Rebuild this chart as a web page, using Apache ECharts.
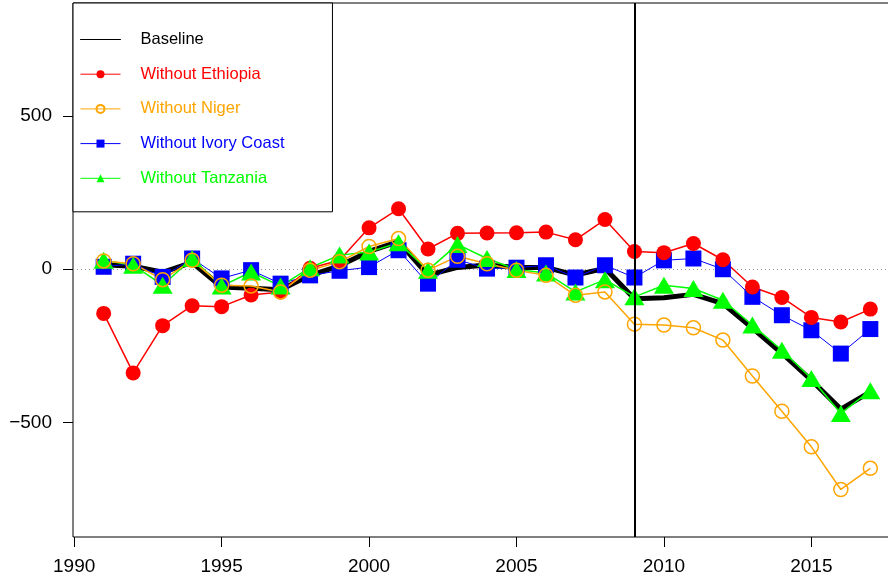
<!DOCTYPE html>
<html><head><meta charset="utf-8">
<script src="https://cdn.jsdelivr.net/npm/echarts@6/dist/echarts.min.js"></script>
<style>html,body{margin:0;padding:0;background:#fff}#chart{width:888px;height:579px}</style>
</head><body><div id="chart"></div>
<script>
const years = [1991,1992,1993,1994,1995,1996,1997,1998,1999,2000,2001,2002,2003,2004,2005,2006,2007,2008,2009,2010,2011,2012,2013,2014,2015,2016,2017];
const baseline = [15,10,-10,22,-58,-62,-67,-20,11,58,90,-19,6,14,6,6,-19,3,-96,-93,-82,-112,-192,-274,-362,-456,-400];
const withoutEthiopia = [-144,-338,-184,-119,-122,-84,-74,3,29,135,197,66,117,118,119,121,96,162,58,54,84,31,-58,-92,-157,-172,-130];
const withoutNiger = [27,18,-34,29,-52,-55,-74,-3,24,74,100,-3,42,18,-3,-20,-85,-74,-179,-182,-191,-231,-348,-463,-579,-718,-649];
const withoutIvoryCoast = [8,18,-25,35,-30,-3,-47,-20,-5,7,62,-47,31,2,5,13,-27,13,-27,29,35,0,-90,-150,-199,-275,-195];
const withoutTanzania = [29,13,-52,35,-55,-9,-55,5,46,56,86,-3,81,35,-1,-12,-74,-34,-90,-52,-63,-101,-182,-264,-356,-470,-396];
const xTicks = [1990,1995,2000,2005,2010,2015];
const yTicks = [-500,0,500];
const breakYear = 2009;
const xRange = [1989.96, 2018.04];
const yRange = [-873, 868];

const FONT = '"Liberation Sans", Arial, Helvetica, sans-serif';
function pairs(vals){ return years.map((y,i)=>[y, vals[i]]); }

const chart = echarts.init(document.getElementById('chart'), null, {renderer:'canvas'});
chart.setOption({
  animation:false,
  backgroundColor:'#fff',
  grid:{left:73, top:3, right:-13, bottom:42, show:true, borderColor:'#000', borderWidth:1,
        backgroundColor:'transparent', containLabel:false, outerBoundsMode:'none'},
  xAxis:{type:'value', min:xRange[0], max:xRange[1],
    axisLine:{show:false, onZero:false}, splitLine:{show:false},
    axisTick:{show:true, inside:false, length:10, lineStyle:{color:'#000', width:1}, customValues:xTicks},
    axisLabel:{customValues:xTicks, margin:20, fontSize:19, color:'#000', fontFamily:FONT,
      formatter:v => String(v)}},
  yAxis:{type:'value', min:yRange[0], max:yRange[1],
    axisLine:{show:false, onZero:false}, splitLine:{show:false},
    axisTick:{show:true, inside:false, length:10, lineStyle:{color:'#000', width:1}, customValues:yTicks},
    axisLabel:{customValues:yTicks, margin:21, fontSize:19, color:'#000', fontFamily:FONT,
      formatter:v => String(v).replace('-', '\u2212')}},
  legend:{orient:'vertical', left:73, top:3, selectedMode:false,
    itemWidth:40, itemHeight:10, itemGap:17.7,
    padding:[28,48,25,7], borderColor:'#000', borderWidth:1, backgroundColor:'#fff',
    lineStyle:{width:1},
    textStyle:{fontFamily:FONT, fontSize:16.5, lineHeight:16, padding:[0,0,0,15]},
    data:[
      {name:'Baseline', textStyle:{color:'#000'}, itemStyle:{opacity:0, color:'rgba(0,0,0,0)', borderWidth:0}},
      {name:'Without Ethiopia', textStyle:{color:'#ff0000'}},
      {name:'Without Niger', textStyle:{color:'#ffa500'}},
      {name:'Without Ivory Coast', textStyle:{color:'#0000ff'}},
      {name:'Without Tanzania', textStyle:{color:'#00ff00'}}
    ]},
  series:[
    {name:'Baseline', type:'line', data:pairs(baseline), symbol:'none',
     lineStyle:{color:'#000', width:5, cap:'round', join:'round'}, itemStyle:{color:'#000'},
     markLine:{silent:true, z:1, symbol:['none','none'], label:{show:false},
       lineStyle:{color:'#999', type:[1,3], width:1}, data:[{yAxis:0}]}},
    {name:'Without Ivory Coast', type:'line', data:pairs(withoutIvoryCoast), symbol:'rect', symbolSize:16,
     lineStyle:{color:'#0000ff', width:1}, itemStyle:{color:'#0000ff'}},
    {name:'Without Ethiopia', type:'line', data:pairs(withoutEthiopia), symbol:'circle', symbolSize:15,
     lineStyle:{color:'#ff0000', width:1.5}, itemStyle:{color:'#ff0000'}},
    {name:'Without Tanzania', type:'line', data:pairs(withoutTanzania), symbol:'triangle', symbolSize:[20,17],
     lineStyle:{color:'#00ff00', width:1.5}, itemStyle:{color:'#00ff00'}},
    {name:'Without Niger', type:'line', data:pairs(withoutNiger), symbol:'circle', symbolSize:14,
     lineStyle:{color:'#ffa500', width:1.5},
     itemStyle:{color:'rgba(255,255,255,0)', borderColor:'#ffa500', borderWidth:1.5},
     markLine:{silent:true, symbol:['none','none'], label:{show:false},
       lineStyle:{color:'#000', type:'solid', width:2}, data:[{xAxis:breakYear}]}}
  ]
});
</script></body></html>
